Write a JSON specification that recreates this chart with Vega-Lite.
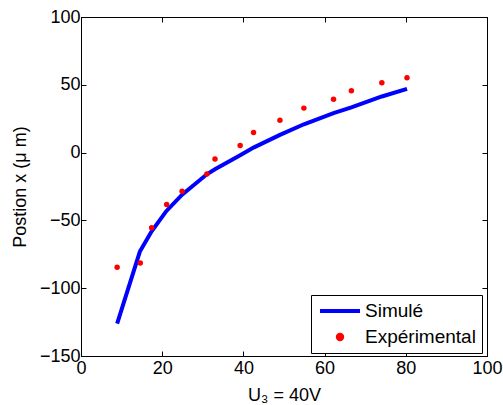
{
  "$schema": "https://vega.github.io/schema/vega-lite/v6.json",
  "width": 406,
  "height": 339,
  "autosize": {"type": "none"},
  "padding": {"left": 81, "top": 17, "right": 16, "bottom": 49},
  "config": {
    "view": {"stroke": "black", "strokeWidth": 1},
    "font": "Liberation Sans",
    "axis": {
      "grid": false,
      "domainColor": "black",
      "domainWidth": 1,
      "tickColor": "black",
      "tickWidth": 1,
      "tickSize": -5,
      "labelFlush": false,
      "labelOverlap": false,
      "labelFont": "Liberation Sans",
      "labelFontSize": 18,
      "labelColor": "black",
      "titleFont": "Liberation Sans",
      "titleFontSize": 18,
      "titleFontWeight": "normal",
      "titleColor": "black"
    }
  },
  "data": {
    "values": [
      {"u": 8.9, "pos": -126.1, "serie": "Simulé"},
      {"u": 14.5, "pos": -73.0, "serie": "Simulé"},
      {"u": 17.4, "pos": -58.0, "serie": "Simulé"},
      {"u": 21.0, "pos": -43.2, "serie": "Simulé"},
      {"u": 24.9, "pos": -31.0, "serie": "Simulé"},
      {"u": 31.0, "pos": -16.0, "serie": "Simulé"},
      {"u": 33.0, "pos": -12.3, "serie": "Simulé"},
      {"u": 39.2, "pos": -2.0, "serie": "Simulé"},
      {"u": 42.5, "pos": 3.7, "serie": "Simulé"},
      {"u": 49.0, "pos": 13.1, "serie": "Simulé"},
      {"u": 54.9, "pos": 20.9, "serie": "Simulé"},
      {"u": 62.2, "pos": 29.1, "serie": "Simulé"},
      {"u": 66.6, "pos": 33.3, "serie": "Simulé"},
      {"u": 74.1, "pos": 41.4, "serie": "Simulé"},
      {"u": 80.3, "pos": 47.0, "serie": "Simulé"},
      {"u": 8.9, "pos": -84.5, "serie": "Expérimental"},
      {"u": 14.6, "pos": -81.4, "serie": "Expérimental"},
      {"u": 17.4, "pos": -55.4, "serie": "Expérimental"},
      {"u": 21.1, "pos": -38.2, "serie": "Expérimental"},
      {"u": 24.9, "pos": -28.5, "serie": "Expérimental"},
      {"u": 31.0, "pos": -15.8, "serie": "Expérimental"},
      {"u": 33.0, "pos": -4.7, "serie": "Expérimental"},
      {"u": 39.2, "pos": 5.2, "serie": "Expérimental"},
      {"u": 42.5, "pos": 14.8, "serie": "Expérimental"},
      {"u": 49.0, "pos": 23.9, "serie": "Expérimental"},
      {"u": 54.9, "pos": 32.8, "serie": "Expérimental"},
      {"u": 62.2, "pos": 39.4, "serie": "Expérimental"},
      {"u": 66.6, "pos": 45.6, "serie": "Expérimental"},
      {"u": 74.1, "pos": 51.5, "serie": "Expérimental"},
      {"u": 80.3, "pos": 55.2, "serie": "Expérimental"}
    ]
  },
  "layer": [
    {
      "transform": [{"filter": "datum.serie === 'Simulé'"}],
      "mark": {"type": "line", "strokeWidth": 4, "strokeJoin": "miter", "strokeCap": "butt"},
      "encoding": {
        "x": {
          "field": "u", "type": "quantitative",
          "scale": {"domain": [0, 100], "nice": false, "zero": false},
          "axis": {
            "orient": "bottom",
            "values": [0, 20, 40, 60, 80, 100],
            "labelBaseline": "alphabetic",
            "labelPadding": 22,
            "title": "U₃ = 40V",
            "titleX": 203,
            "titleY": 44,
            "titleAlign": "center",
            "titleBaseline": "alphabetic"
          }
        },
        "y": {
          "field": "pos", "type": "quantitative",
          "scale": {"domain": [-150, 100], "nice": false, "zero": false},
          "axis": {
            "orient": "left",
            "values": [-150, -100, -50, 0, 50, 100],
            "labelPadding": 6,
            "title": "Postion x (μ m)",
            "titleX": -55.5,
            "titleY": 169.5,
            "titleAngle": 270,
            "titleAlign": "center",
            "titleBaseline": "alphabetic"
          }
        },
        "color": {
          "field": "serie", "type": "nominal",
          "scale": {"domain": ["Simulé", "Expérimental"], "range": ["#0000ff", "#ff0000"]},
          "legend": {
            "title": null,
            "orient": "none",
            "legendX": 230,
            "legendY": 278,
            "padding": 6,
            "symbolOffset": 1,
            "symbolSize": 1600,
            "symbolStrokeWidth": 4,
            "clipHeight": 20,
            "rowPadding": 6,
            "labelOffset": 3,
            "labelFont": "Liberation Sans",
            "labelFontSize": 19,
            "labelColor": "black",
            "strokeColor": "black",
            "fillColor": "white",
            "encode": {
              "symbols": {
                "update": {
                  "shape": {"signal": "datum.value === 'Simulé' ? 'stroke' : 'M-0.11,0A0.11,0.11,0,1,0,0.11,0A0.11,0.11,0,1,0,-0.11,0Z'"},
                  "stroke": {"signal": "datum.value === 'Simulé' ? '#0000ff' : 'transparent'"},
                  "fill": {"signal": "datum.value === 'Simulé' ? 'transparent' : '#ff0000'"},
                  "opacity": {"value": 1}
                }
              }
            }
          }
        }
      }
    },
    {
      "transform": [{"filter": "datum.serie === 'Expérimental'"}],
      "mark": {"type": "point", "filled": true, "shape": "circle", "size": 30, "opacity": 1},
      "encoding": {
        "x": {
          "field": "u", "type": "quantitative",
          "axis": {"orient": "top", "values": [0, 20, 40, 60, 80, 100], "labels": false, "title": null}
        },
        "y": {
          "field": "pos", "type": "quantitative",
          "axis": {"orient": "right", "values": [-150, -100, -50, 0, 50, 100], "labels": false, "title": null}
        },
        "color": {"field": "serie", "type": "nominal"}
      }
    }
  ],
  "resolve": {"axis": {"x": "independent", "y": "independent"}}
}
